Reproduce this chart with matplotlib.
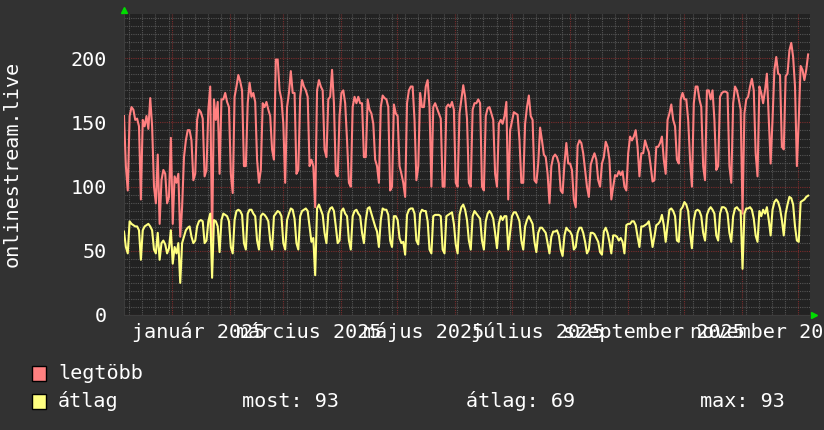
import datetime as dt
import matplotlib
matplotlib.use("Agg")
import matplotlib.pyplot as plt
import matplotlib.dates as mdates
import matplotlib.transforms as mtransforms
from matplotlib.patches import Rectangle
from matplotlib.ticker import MultipleLocator, NullFormatter

# daily values, starting 2024-12-06
legtobb = [
    155, 116, 97, 155, 162, 160, 152,
    153, 147, 90, 152, 147, 155, 145,
    169, 147, 100, 87, 125, 71, 105,
    113, 110, 87, 92, 138, 71, 108,
    103, 110, 61, 84, 123, 136, 144,
    144, 136, 105, 110, 152, 160, 158,
    153, 108, 113, 160, 178, 58, 168,
    152, 166, 110, 168, 168, 173, 166,
    162, 110, 95, 170, 178, 187, 182,
    175, 116, 116, 165, 181, 170, 173,
    166, 121, 103, 113, 165, 162, 166,
    160, 155, 129, 121, 199, 199, 175,
    168, 149, 103, 162, 173, 190, 173,
    173, 110, 113, 170, 183, 178, 175,
    170, 116, 121, 116, 84, 175, 183,
    178, 175, 129, 123, 168, 170, 191,
    165, 110, 108, 155, 173, 175, 165,
    136, 103, 100, 162, 170, 165, 170,
    165, 165, 123, 123, 168, 160,
    157, 149, 121, 116, 103, 162, 171,
    169, 168, 162, 97, 100, 164, 157,
    155, 116, 110, 103, 92, 165, 175,
    178, 178, 152, 105, 116, 173, 162,
    162, 178, 183, 162, 100, 162, 165,
    161, 157, 153, 100, 100, 162, 164,
    162, 166, 160, 103, 100, 157, 168,
    179, 170, 153, 103, 100, 160, 165,
    165, 168, 165, 100, 97, 155, 161,
    162, 157, 152, 110, 100, 149, 152,
    149, 155, 166, 90, 144, 151, 158,
    157, 156, 136, 103, 103, 149, 162,
    171, 155, 152, 105, 103, 118, 146,
    136, 125, 123, 110, 87, 116, 123,
    125, 123, 118, 97, 95, 118, 134,
    118, 118, 113, 90, 84, 132, 136,
    134, 126, 113, 100, 92, 117, 122,
    126, 121, 105, 100, 118, 123,
    135, 131, 121, 90, 100, 109, 108,
    112, 109, 112, 100, 97, 126, 139,
    136, 139, 144, 131, 108, 126, 126,
    136, 131, 127, 116, 104, 105, 131,
    131, 134, 139, 121, 110, 152, 157,
    164, 152, 147, 121, 118, 168, 173,
    168, 168, 152, 121, 100, 165, 178,
    178, 168, 162, 116, 105, 175, 175,
    168, 175, 152, 113, 116, 170, 173,
    174, 174, 173, 116, 103, 165, 178,
    175, 168, 160, 79, 157, 168, 170,
    178, 184, 175, 126, 108, 178, 173,
    165, 175, 188, 152, 118, 152, 191,
    201, 188, 187, 131, 129, 186, 188,
    206, 212, 201, 178, 116, 152, 194,
    191, 183, 191, 203,
]

atlag = [
    65, 53, 48, 73, 71, 70, 69,
    69, 66, 43, 66, 69, 70, 71,
    69, 66, 51, 48, 64, 43, 56,
    58, 55, 48, 52, 66, 40, 53,
    48, 56, 25, 56, 61, 66, 68,
    69, 61, 56, 58, 69, 73, 74,
    73, 56, 58, 73, 79, 29, 74,
    73, 69, 49, 74, 79, 78, 77,
    73, 53, 48, 74, 81, 82, 81,
    78, 56, 51, 79, 82, 82, 79,
    77, 58, 51, 77, 79, 78, 76,
    73, 58, 51, 77, 79, 81, 80,
    77, 56, 51, 74, 79, 83, 82,
    75, 56, 51, 77, 81, 82, 83,
    81, 69, 57, 60, 31, 83, 86,
    82, 78, 64, 56, 79, 83, 84,
    81, 69, 56, 58, 81, 83, 79,
    77, 58, 51, 77, 81, 82, 79,
    77, 64, 56, 74, 83, 84,
    79, 74, 69, 65, 53, 74, 83,
    82, 82, 78, 58, 53, 77, 77,
    74, 60, 56, 57, 47, 78, 82,
    83, 83, 79, 58, 55, 79, 82,
    81, 81, 73, 51, 48, 77, 78,
    78, 78, 77, 51, 48, 77, 78,
    79, 80, 71, 55, 48, 78, 84,
    86, 82, 74, 58, 51, 77, 81,
    79, 77, 75, 58, 51, 73, 79,
    81, 79, 75, 64, 52, 71, 77,
    74, 77, 77, 51, 64, 77, 80,
    80, 77, 73, 58, 51, 69, 74,
    77, 74, 71, 57, 49, 64, 68,
    68, 66, 64, 56, 48, 61, 65,
    65, 66, 62, 51, 46, 62, 68,
    66, 65, 62, 51, 53, 64, 68,
    68, 64, 57, 48, 51, 64, 64,
    63, 60, 57, 49, 47, 65,
    68, 64, 57, 48, 62, 62, 61,
    58, 60, 57, 48, 70, 71, 71,
    73, 73, 70, 61, 53, 69, 69,
    70, 71, 73, 64, 53, 61, 70,
    71, 73, 78, 70, 57, 70, 82,
    83, 81, 77, 58, 57, 82, 84,
    88, 86, 81, 64, 52, 74, 81,
    82, 81, 77, 64, 58, 78, 82,
    84, 82, 79, 62, 58, 79, 84,
    84, 83, 79, 64, 57, 77, 83,
    84, 82, 81, 36, 79, 83, 83,
    84, 82, 75, 62, 57, 81, 77,
    82, 79, 84, 74, 62, 82, 88,
    90, 88, 83, 74, 62, 79, 86,
    92, 91, 86, 69, 58, 57, 88,
    89, 90, 92, 93,
]

month_labels = ["január 2025", "március 2025", "május 2025",
                "július 2025", "szeptember 2025", "november 2025"]
label_months = [1, 3, 5, 7, 9, 11]
y_ticks = [0, 50, 100, 150, 200]
series_names = ["legtöbb", "átlag"]
stat_texts = ["most: 93", "átlag: 69", "max: 93"]

BG = "#323232"
CANVAS = "#222222"
RED = "#ff8080"
YELLOW = "#ffff80"
FS = 14.5

plt.rcParams["font.family"] = "DejaVu Sans Mono"

start = dt.datetime(2024, 12, 6, 5)
days = [start + dt.timedelta(days=i) for i in range(len(legtobb))]
end = start + dt.timedelta(days=366)

fig = plt.figure(figsize=(8.24, 4.30), dpi=100, facecolor=BG)
ax = fig.add_axes([124 / 824, 1 - 315 / 430, 686 / 824, 301 / 430])
ax.set_facecolor(CANVAS)

ax.plot(days, legtobb, color=RED, lw=1.5, zorder=3)
ax.plot(days, atlag, color=YELLOW, lw=1.5, zorder=4)

ax.set_xlim(start, end)
ax.set_ylim(0, 234.5)

# grid: weeks (minor) and months (major)
ax.xaxis.set_major_locator(mdates.MonthLocator())
ax.xaxis.set_minor_locator(mdates.WeekdayLocator(byweekday=mdates.MO))
ax.xaxis.set_major_formatter(NullFormatter())
ax.yaxis.set_major_locator(MultipleLocator(50))
ax.yaxis.set_minor_locator(MultipleLocator(6.25))
ax.set_yticks(y_ticks)
ax.set_yticklabels([str(v) for v in y_ticks])
ax.grid(which="minor", color="#555555", ls=(0, (1, 1)), lw=0.8, zorder=1)
ax.grid(which="major", color="#7a2c2c", ls=(0, (1, 1)), lw=0.8, zorder=2)
ax.set_axisbelow(True)
ax.tick_params(which="both", length=0, labelsize=FS, labelcolor="white", pad=12)

for s in ["top", "right"]:
    ax.spines[s].set_visible(False)
for s in ["bottom", "left"]:
    ax.spines[s].set_color("#3c3c3c")

# month labels centered mid-month
trans = mtransforms.blended_transform_factory(ax.transData, ax.transAxes)
for m, lab in zip(label_months, month_labels):
    ax.text(dt.datetime(2025, m, 15), -0.0764, lab, transform=trans,
            ha="center", va="baseline", fontsize=FS, color="white", clip_on=False)

# green arrows
ax.plot([0], [1.012], marker="^", color="#00dd00", ms=5, transform=ax.transAxes, clip_on=False)
ax.plot([1.006], [0], marker=">", color="#00dd00", ms=5, transform=ax.transAxes, clip_on=False)

fig.text(12 / 824, 1 - 164 / 430, "onlinestream.live", rotation=90, ha="center", va="center",
         fontsize=FS, color="white")

# legend
for row, (name, col) in enumerate(zip(series_names, [RED, YELLOW])):
    top = 366 + row * 28
    fig.add_artist(Rectangle((32 / 824, 1 - (top + 15) / 430), 14 / 824, 15 / 430,
                             transform=fig.transFigure, facecolor=col, edgecolor="black", lw=1))
    fig.text(58 / 824, 1 - (top + 13) / 430, name, va="baseline", fontsize=FS, color="white")

for x, txt in zip([242, 466, 700], stat_texts):
    fig.text(x / 824, 1 - 407 / 430, txt, va="baseline", fontsize=FS, color="white")

fig.savefig("out.png", dpi=100, facecolor=BG)
